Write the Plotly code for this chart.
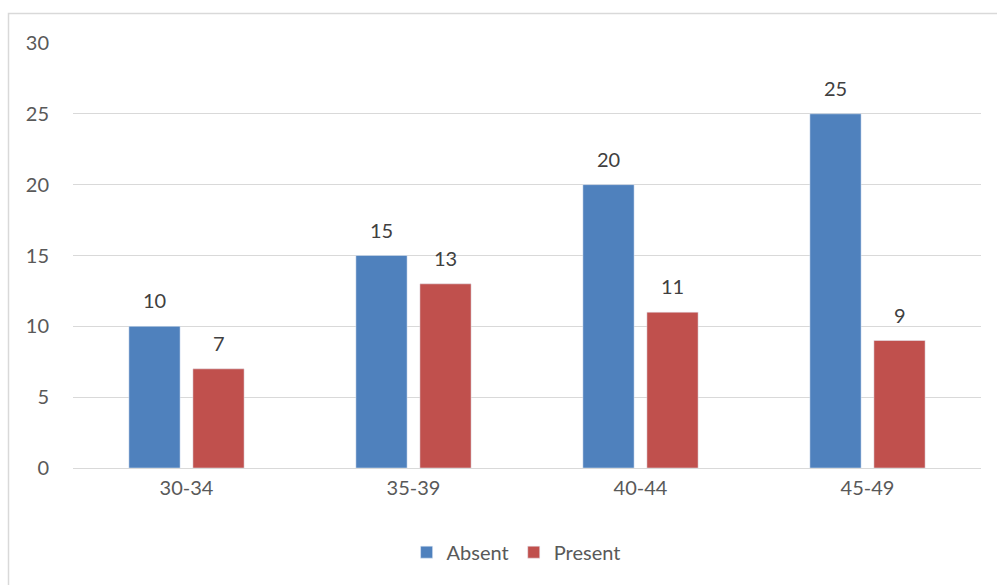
import plotly.graph_objects as go

categories = ["30-34", "35-39", "40-44", "45-49"]
absent = [10, 15, 20, 25]
present = [7, 13, 11, 9]

BLUE = "#4F81BD"
RED = "#C0504D"
FONT = "Lato, 'Open Sans', sans-serif"
FS = 20

fig = go.Figure()
fig.add_bar(x=categories, y=absent, name="Absent", marker_color=BLUE, offsetgroup="a")
fig.add_bar(x=categories, y=present, name="Present", marker_color=RED, offsetgroup="p")

# data labels above each bar (bar slot offset: +/- 32 px from category centre)
annotations = []
for cat, a, p in zip(categories, absent, present):
    annotations.append(dict(x=cat, y=a, text=str(a), showarrow=False, xshift=-32, yshift=26,
                            yanchor="middle", font=dict(size=FS, color="#404040", family=FONT)))
    annotations.append(dict(x=cat, y=p, text=str(p), showarrow=False, xshift=32, yshift=26,
                            yanchor="middle", font=dict(size=FS, color="#404040", family=FONT)))

fig.update_layout(
    width=997, height=585,
    margin=dict(l=73, r=16, t=43, b=117),
    paper_bgcolor="white", plot_bgcolor="white",
    barmode="group", bargap=0.436, bargroupgap=0.2,
    font=dict(family=FONT, size=FS, color="#595959"),
    legend=dict(orientation="h", x=0.488, xanchor="center", y=-0.198, yanchor="middle",
                font=dict(size=FS, color="#595959"), itemwidth=30),
    xaxis=dict(showgrid=False, showline=False, ticks="", ticklabelstandoff=6,
               tickfont=dict(size=FS, color="#595959")),
    yaxis=dict(range=[0, 30], dtick=5, showgrid=True, gridcolor="#D9D9D9", gridwidth=1,
               zeroline=True, zerolinecolor="#D9D9D9", zerolinewidth=1,
               showline=False, ticks="", ticklabelstandoff=23,
               tickfont=dict(size=FS, color="#595959")),
    annotations=annotations,
    shapes=[dict(type="rect", xref="paper", yref="paper",
                 x0=(8.5 - 73) / 908, x1=1.2, y0=-0.6, y1=1 + (43 - 13.5) / 425,
                 line=dict(color="#D9D9D9", width=1.5), fillcolor="rgba(0,0,0,0)",
                 layer="below")],
)

fig.write_html("out.html")
